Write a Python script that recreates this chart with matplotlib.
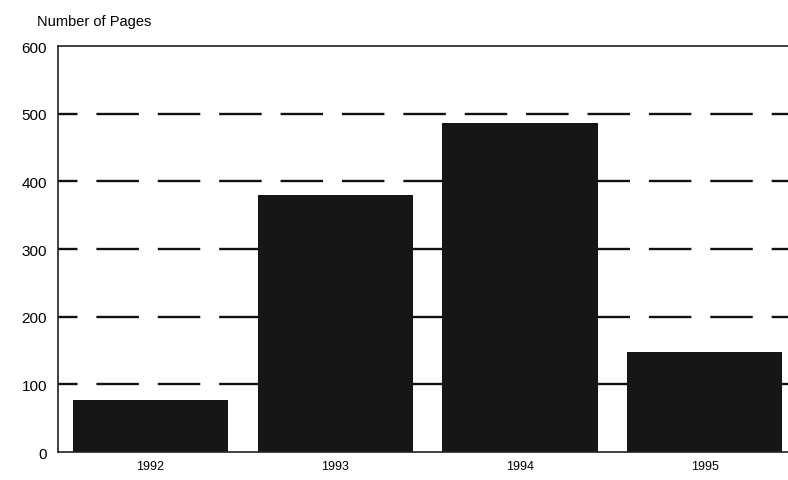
import matplotlib.pyplot as plt

plt.rcParams['font.family'] = ['Liberation Sans', 'DejaVu Sans']

years = ['1992', '1993', '1994', '1995']
pages = [77, 380, 487, 148]
yticks = [0, 100, 200, 300, 400, 500, 600]

fig = plt.figure(figsize=(7.88, 4.81), dpi=100)
ax = fig.add_axes([0.0736, 0.058, 0.9264, 0.844])

# dashed grid behind the bars (start a bit left of the axis so the first dash is short)
for y in yticks[1:-1]:
    ax.plot([-0.624, 3.45], [y, y], color='#111111', lw=1.7, ls=(0, (18, 8)),
            zorder=1, clip_on=True)

ax.bar(range(len(years)), pages, width=0.84, color='#161616', zorder=2)

ax.set_xlim(-0.5, 3.45)
ax.set_ylim(0, 600)
ax.set_xticks(range(len(years)))
ax.set_xticklabels(years, fontsize=9)
ax.set_yticks(yticks)
ax.set_yticklabels([str(v) for v in yticks], fontsize=11)
ax.tick_params(length=0, pad=8)
ax.tick_params(axis='x', pad=6)

ax.spines['right'].set_visible(False)
for s in ['left', 'top', 'bottom']:
    ax.spines[s].set_color('#222222')
    ax.spines[s].set_linewidth(1.2)

fig.text(0.047, 0.955, 'Number of Pages', fontsize=10.5, va='center', ha='left')

fig.savefig('out.png', dpi=100)
